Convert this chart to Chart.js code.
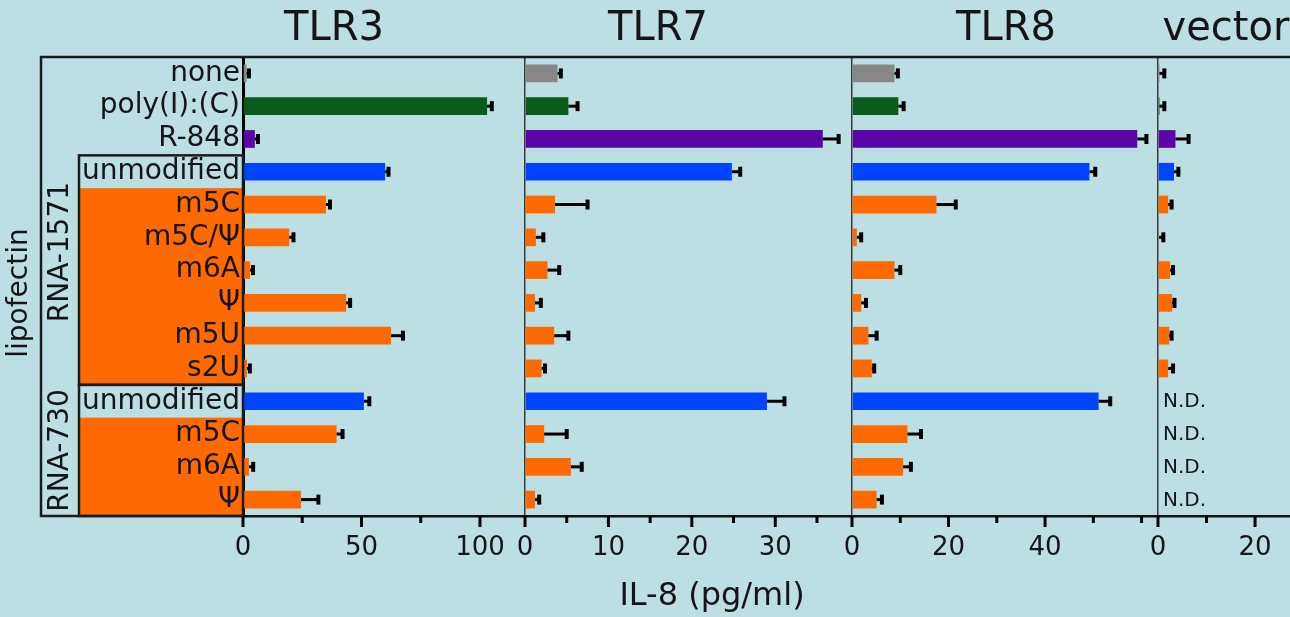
<!DOCTYPE html>
<html>
<head>
<meta charset="utf-8">
<title>IL-8 secretion</title>
<script src="https://cdn.jsdelivr.net/npm/chart.js@4.4.1/dist/chart.umd.min.js"></script>
<style>
  html, body { margin: 0; padding: 0; background: #bcdfe3; }
  #wrap { width: 1290px; height: 617px; }
</style>
</head>
<body>
<div id="wrap"><canvas id="chart" width="1290" height="617"></canvas></div>
<script>
// rows, top to bottom
const categories = ['none', 'poly(I):(C)', 'R-848', 'unmodified', 'm5C', 'm5C/Ψ', 'm6A', 'Ψ', 'm5U', 's2U', 'unmodified', 'm5C', 'm6A', 'Ψ']

// RNA groups (row index ranges), first row of each is the unmodified one
const rnaGroups = [
  { label: 'RNA-1571', from: 3, to: 9 },
  { label: 'RNA-730', from: 10, to: 13 },
]

// IL-8 (pg/ml), mean and error
const tlr3Values = [1.5, 103, 5, 60, 35, 19.5, 3, 43.5, 62.5, 1.7, 51, 39.5, 2.5, 24.5]
const tlr3Errors = [1, 2, 1.3, 1.4, 1.7, 1.8, 1.2, 1.7, 5, 1.2, 2.3, 2.5, 1.8, 7.3]

const tlr7Values = [3.9, 5.2, 35.7, 24.8, 3.6, 1.3, 2.7, 1.2, 3.5, 2.0, 29.0, 2.3, 5.5, 1.2]
const tlr7Errors = [0.4, 1.1, 1.9, 1.0, 3.9, 0.9, 1.4, 0.7, 1.7, 0.4, 2.1, 2.7, 1.3, 0.5]

const tlr8Values = [8.8, 9.6, 59.1, 49.2, 17.5, 1.0, 8.8, 1.9, 3.4, 4.1, 51.1, 11.5, 10.6, 5.1]
const tlr8Errors = [0.7, 1.1, 1.9, 1.2, 4.0, 0.9, 1.2, 1.0, 1.7, 0.5, 2.4, 2.8, 1.6, 1.1]

// null = N.D.
const vectorValues = [0.3, 0.3, 3.6, 3.3, 2.1, 0.2, 2.5, 2.9, 2.3, 2.1, null, null, null, null]
const vectorErrors = [1.0, 1.0, 2.7, 0.9, 0.7, 0.9, 0.6, 0.5, 0.5, 1.0, null, null, null, null]

// labelled ticks for each panel
const tlr3TickLabels = [0, 50, 100]
const tlr7TickLabels = [0, 10, 20, 30]
const tlr8TickLabels = [0, 20, 40]
const vectorTickLabels = [0, 20]

const FONT = "'DejaVu Sans', sans-serif"
const BG = '#bcdfe3'
const INK = '#151515'
const GREY = '#878787'
const GREEN = '#0a5c1c'
const PURPLE = '#5a06a6'
const BLUE = '#0044ff'
const ORANGE = '#ff6a00'

const barColors = [GREY, GREEN, PURPLE, BLUE, ORANGE, ORANGE, ORANGE, ORANGE, ORANGE, ORANGE, BLUE, ORANGE, ORANGE, ORANGE]

const panels = [
  { id: 'x1', title: 'TLR3', titleX: 334, values: tlr3Values, errors: tlr3Errors, max: 119, step: 25, labels: tlr3TickLabels, width: 282 },
  { id: 'x2', title: 'TLR7', titleX: 658, values: tlr7Values, errors: tlr7Errors, max: 39.2, step: 5, labels: tlr7TickLabels, width: 327 },
  { id: 'x3', title: 'TLR8', titleX: 1006, values: tlr8Values, errors: tlr8Errors, max: 63.4, step: 10, labels: tlr8TickLabels, width: 306 },
  { id: 'x4', title: 'vector', titleX: 1226, values: vectorValues, errors: vectorErrors, max: 27.2, step: 10, labels: vectorTickLabels, width: 132 },
]

const FRAME_LEFT = 41
const GROUP_LEFT = 79

function rowEdges(y, from, to) {
  const half = (y.getPixelForValue(1) - y.getPixelForValue(0)) / 2
  return [y.getPixelForValue(from) - half, y.getPixelForValue(to) + half]
}

/**
 * Fond + cases orange derriere les ARN modifies
 */
const backdrop = {
  id: 'backdrop',
  beforeDraw(chart) {
    const { ctx, width, height, chartArea } = chart
    const y = chart.scales.y
    ctx.save()
    ctx.fillStyle = BG
    ctx.fillRect(0, 0, width, height)
    ctx.fillStyle = ORANGE
    rnaGroups.forEach((g) => {
      const [top, bottom] = rowEdges(y, g.from + 1, g.to)
      ctx.fillRect(GROUP_LEFT, top, chartArea.left - GROUP_LEFT, bottom - top)
    })
    ctx.restore()
  },
}

/**
 * Barres d'erreur
 */
const errorBars = {
  id: 'errorBars',
  afterDatasetsDraw(chart) {
    const { ctx } = chart
    ctx.save()
    ctx.strokeStyle = '#000'
    chart.data.datasets.forEach((ds, di) => {
      const meta = chart.getDatasetMeta(di)
      const xScale = chart.scales[ds.xAxisID]
      meta.data.forEach((bar, i) => {
        const v = ds.data[i]
        const e = ds.errors[i]
        if (v == null || e == null) return
        const xEnd = xScale.getPixelForValue(v + e)
        ctx.lineWidth = 3
        ctx.beginPath()
        ctx.moveTo(bar.x, bar.y)
        ctx.lineTo(xEnd, bar.y)
        ctx.stroke()
        ctx.lineWidth = 4
        ctx.beginPath()
        ctx.moveTo(xEnd, bar.y - 5)
        ctx.lineTo(xEnd, bar.y + 5)
        ctx.stroke()
      })
    })
    ctx.restore()
  },
}

/**
 * Cadre, groupes, titres, graduations
 */
const frame = {
  id: 'frame',
  afterDraw(chart) {
    const { ctx, width, chartArea } = chart
    const y = chart.scales.y
    ctx.save()
    ctx.strokeStyle = '#1b1b1b'
    ctx.lineWidth = 2.5

    // outer frame
    ctx.beginPath()
    ctx.moveTo(width, chartArea.top)
    ctx.lineTo(FRAME_LEFT, chartArea.top)
    ctx.lineTo(FRAME_LEFT, chartArea.bottom)
    ctx.lineTo(chartArea.left, chartArea.bottom)
    ctx.stroke()

    // group boxes
    rnaGroups.forEach((g) => {
      const [top, bottom] = rowEdges(y, g.from, g.to)
      ctx.strokeRect(GROUP_LEFT, top, chartArea.left - GROUP_LEFT, bottom - top)
    })

    ctx.fillStyle = INK
    ctx.textAlign = 'center'
    ctx.textBaseline = 'middle'

    // rotated labels
    ctx.font = `28px ${FONT}`
    const rotated = (text, x, cy) => {
      ctx.save()
      ctx.translate(x, cy)
      ctx.rotate(-Math.PI / 2)
      ctx.fillText(text, 0, 0)
      ctx.restore()
    }
    rotated('lipofectin', 20, 293)
    rnaGroups.forEach((g, i) => {
      const [top, bottom] = rowEdges(y, g.from, g.to)
      const shift = i === 0 ? -18 : 0
      rotated(g.label, (FRAME_LEFT + GROUP_LEFT) / 2 + 1, (top + bottom) / 2 + shift)
    })

    // panel titles
    ctx.font = `40px ${FONT}`
    panels.forEach((p) => ctx.fillText(p.title, p.titleX, 30))

    // axis title
    ctx.font = `32px ${FONT}`
    ctx.fillText('IL-8 (pg/ml)', 712, 597)

    // tick marks (long for labelled ticks)
    ctx.strokeStyle = '#000'
    ctx.lineWidth = 3
    panels.forEach((p) => {
      const s = chart.scales[p.id]
      s.ticks.forEach((t) => {
        if (t.value > p.max - 0.5) return
        const x = s.getPixelForValue(t.value)
        const len = t.label !== '' ? 11 : 7
        ctx.beginPath()
        ctx.moveTo(x, s.top)
        ctx.lineTo(x, s.top + len)
        ctx.stroke()
      })
    })

    // N.D. in vector panel
    const xv = chart.scales.x4
    ctx.font = `20px ${FONT}`
    ctx.textAlign = 'left'
    vectorValues.forEach((v, i) => {
      if (v == null) ctx.fillText('N.D.', xv.left + 5, y.getPixelForValue(i) + 1)
    })
    ctx.restore()
  },
}

const scales = {
  y: {
    type: 'category',
    position: 'left',
    grid: { display: false, drawTicks: false },
    border: { display: true, color: '#000', width: 3 },
    ticks: { autoSkip: false, padding: 3, color: INK, font: { family: FONT, size: 28 } },
    afterFit: (s) => {
      s.width = 243
    },
  },
}

panels.forEach((p) => {
  scales[p.id] = {
    type: 'linear',
    axis: 'x',
    position: 'bottom',
    stack: 'il8',
    stackWeight: p.width,
    min: 0,
    max: p.max,
    grid: {
      drawTicks: false,
      lineWidth: 1.5,
      color: (c) => (c.tick && c.tick.value === 0 ? '#3a3a3a' : 'rgba(0,0,0,0)'),
    },
    border: { display: true, color: '#111', width: 2.5 },
    ticks: {
      stepSize: p.step,
      includeBounds: false,
      autoSkip: false,
      maxRotation: 0,
      padding: 17,
      color: INK,
      font: { family: FONT, size: 26 },
      callback: (v) => (p.labels.includes(v) ? String(v) : ''),
    },
    afterFit: (s) => {
      // keep the panels flush with the chart edges
      s.height = 50
      s.paddingLeft = 0
      s.paddingRight = 0
    },
  }
})

new Chart(document.getElementById('chart'), {
  type: 'bar',
  data: {
    labels: categories,
    datasets: panels.map((p) => ({
      label: p.title,
      data: p.values,
      errors: p.errors,
      xAxisID: p.id,
      yAxisID: 'y',
      backgroundColor: barColors,
      grouped: false,
      barPercentage: 0.54,
      categoryPercentage: 1,
    })),
  },
  options: {
    indexAxis: 'y',
    responsive: false,
    animation: false,
    layout: { padding: { top: 57, bottom: 51, left: 0, right: 0 } },
    plugins: {
      legend: { display: false },
      tooltip: { enabled: false },
    },
    scales: scales,
  },
  plugins: [backdrop, errorBars, frame],
})
</script>
</body>
</html>
